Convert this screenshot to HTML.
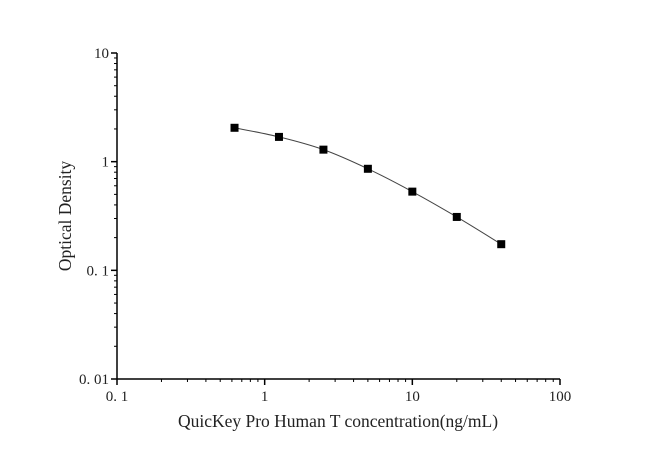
<!DOCTYPE html>
<html><head><meta charset="utf-8"><style>
html,body{margin:0;padding:0;background:#fff;}
svg{display:block;font-family:"Liberation Serif",serif;}
</style></head><body>
<svg id="chart" width="650" height="454"></svg>
<script>
const xCats=[0.625,1.25,2.5,5,10,20,40];
const yVals=[2.05,1.69,1.29,0.86,0.53,0.31,0.174];
const xTickVals=[0.1,1,10,100];
const xTickLabels=["0. 1","1","10","100"];
const yTickVals=[0.01,0.1,1,10];
const yTickLabels=["0. 01","0. 1","1","10"];
const NS="http://www.w3.org/2000/svg";
const svg=document.getElementById('chart');
const X0=117,X1=560,Y0=379,Y1=53;
function sx(v){return X0+(Math.log10(v)+1)/3*(X1-X0);}
function sy(v){return Y0-(Math.log10(v)+2)/3*(Y0-Y1);}
function mk(t,a,p){const e=document.createElementNS(NS,t);for(const k in a)e.setAttribute(k,a[k]);(p||svg).appendChild(e);return e;}
const axes=mk('g',{});


const xa=mk('line',{x1:X0,y1:Y0,x2:X1,y2:Y0,stroke:'#000','stroke-width':1.5},axes);


const ya=mk('line',{x1:X0,y1:Y0,x2:X0,y2:Y1,stroke:'#000','stroke-width':1.5},axes);


for(let d=-1;d<2;d++){for(let m=2;m<10;m++){const v=m*Math.pow(10,d);mk('line',{x1:sx(v),x2:sx(v),y1:Y0,y2:Y0+3,stroke:'#000','stroke-width':1},axes);}}
xTickVals.forEach((v,i)=>{mk('line',{x1:sx(v),x2:sx(v),y1:Y0,y2:Y0+6,stroke:'#000','stroke-width':1.5},axes);
const t=mk('text',{x:sx(v),y:Y0+22,'text-anchor':'middle','font-size':15,fill:'#222'},axes);t.textContent=xTickLabels[i];

});
for(let d=-2;d<1;d++){for(let m=2;m<10;m++){const v=m*Math.pow(10,d);mk('line',{x1:X0-3,x2:X0,y1:sy(v),y2:sy(v),stroke:'#000','stroke-width':1},axes);}}
yTickVals.forEach((v,i)=>{mk('line',{x1:X0-6,x2:X0,y1:sy(v),y2:sy(v),stroke:'#000','stroke-width':1.5},axes);
const t=mk('text',{x:X0-8,y:sy(v)+5,'text-anchor':'end','font-size':15,fill:'#222'},axes);t.textContent=yTickLabels[i];

});
const xt=mk('text',{x:338,y:427,'text-anchor':'middle','font-size':17.5,fill:'#222'});xt.textContent='QuicKey Pro Human T concentration(ng/mL)';


const yt=mk('text',{x:0,y:0,'text-anchor':'middle','font-size':17.5,fill:'#222',transform:'translate(71,216) rotate(-90)'});yt.textContent='Optical Density';


const P=xCats.map((x,i)=>[sx(x),sy(yVals[i])]);
let d='M'+P[0][0]+','+P[0][1];
for(let i=0;i<P.length-1;i++){const p0=P[Math.max(0,i-1)],p1=P[i],p2=P[i+1],p3=P[Math.min(P.length-1,i+2)];
d+=' C'+(p1[0]+(p2[0]-p0[0])/6)+','+(p1[1]+(p2[1]-p0[1])/6)+' '+(p2[0]-(p3[0]-p1[0])/6)+','+(p2[1]-(p3[1]-p1[1])/6)+' '+p2[0]+','+p2[1];}
const c=mk('path',{d:d,fill:'none',stroke:'#444','stroke-width':1});


P.forEach(p=>{const r=mk('rect',{x:p[0]-4,y:p[1]-4,width:8,height:8,fill:'#000'});

});
</script>
</body></html>
